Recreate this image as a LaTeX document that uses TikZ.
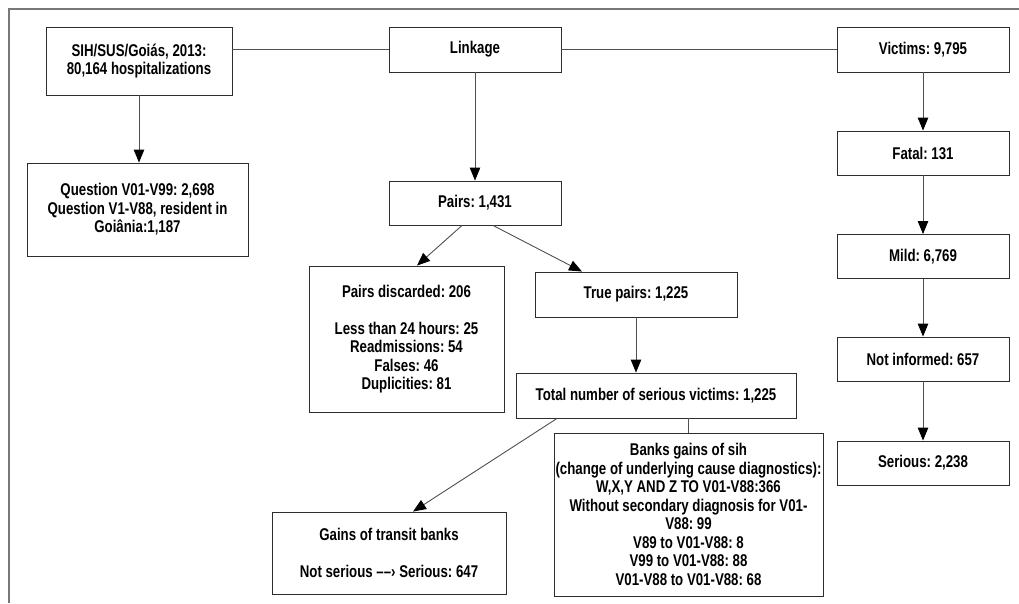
\documentclass[tikz,border=0pt]{standalone}
\usepackage{fontspec}
\setmainfont{Liberation Sans}[FakeStretch=0.78]
\usepackage{tikz}
\usetikzlibrary{arrows.meta,calc,positioning}
\definecolor{boxline}{RGB}{45,45,45}
\definecolor{arrline}{RGB}{80,80,80}
\definecolor{frameline}{RGB}{120,120,120}

\begin{document}
\frenchspacing
\begin{tikzpicture}[x=1pt,y=-1pt,
        font=\fontsize{17}{18.5}\selectfont\bfseries,
        >={Triangle[length=13pt,width=10.5pt,color=black]},
        bx/.style={draw=boxline,line width=.9pt,align=center,inner sep=0pt},
        lk/.style={draw=arrline,line width=.9pt}]
        \useasboundingbox (0,0) rectangle (1019,603);
        \draw[frameline,line width=1.2pt] (9,603)--(9,9)--(1019,9);
        \node[bx,minimum width=186pt,minimum height=68pt] (sih) at (139,61) {SIH/SUS/Goiás, 2013:\\80,164 hospitalizations};
        \node[bx,minimum width=172pt,minimum height=45pt] (link) at (475,49.5) {Linkage};
        \node[bx,minimum width=172pt,minimum height=45pt] (vict) at (923,49.5) {Victims: 9,795};
        \node[bx,minimum width=221pt,minimum height=93pt] (ques) at (137.5,209.5) {Question V01-V99: 2,698\\Question V1-V88, resident in\\Goiânia:1,187};
        \node[bx,minimum width=172pt,minimum height=44pt] (pairs) at (475,203) {Pairs: 1,431};
        \node[bx,minimum width=172pt,minimum height=44pt] (fatal) at (923,153) {Fatal: 131};
        \node[bx,minimum width=172pt,minimum height=44pt] (mild) at (923,256.5) {Mild: 6,769};
        \node[bx,minimum width=172pt,minimum height=44pt] (noinf) at (923,359) {Not informed: 657};
        \node[bx,minimum width=172pt,minimum height=44pt] (serious) at (923,463) {Serious: 2,238};
        \node[bx,minimum width=195pt,minimum height=146pt] (disc) at (406.5,339) {Pairs discarded: 206\\[18.5pt]Less than 24 hours: 25\\Readmissions: 54\\Falses: 46\\Duplicities: 81};
        \node[bx,minimum width=202pt,minimum height=45pt] (truep) at (636,294.5) {True pairs: 1,225};
        \node[bx,minimum width=280pt,minimum height=45pt] (total) at (656,395.5) {Total number of serious victims: 1,225};
        \node[bx,minimum width=269pt,minimum height=163pt] (banks) at (688.5,514.5) {Banks gains of sih\\(change of underlying cause diagnostics):\\W,X,Y AND Z TO V01-V88:366\\Without secondary diagnosis for V01-\\V88: 99\\V89 to V01-V88: 8\\V99 to V01-V88: 88\\V01-V88 to V01-V88: 68};
        \node[bx,minimum width=234pt,minimum height=82pt] (gains) at (389,553) {Gains of transit banks\\[18.5pt]Not serious ––› Serious: 647};
        \draw[lk] (sih.east|-link.west)--(link.west);
        \draw[lk] (link)--(vict);
        \draw[lk,->] (sih.south)--(sih.south|-ques.north);
        \draw[lk,->] (link)--(pairs);
        \draw[lk,->] (vict)--(fatal);
        \draw[lk,->] (fatal)--(mild);
        \draw[lk,->] (mild)--(noinf);
        \draw[lk,->] (noinf)--(serious);
        \draw[lk,->] ([xshift=-13pt]pairs.south)--([xshift=10.5pt]disc.north);
        \draw[lk,->] ([xshift=18pt]pairs.south)--([xshift=-54pt]truep.north);
        \draw[lk,->] (truep.south)--(truep.south|-total.north);
        \draw[lk] (total.south-|banks.north)--(banks.north);
        \draw[lk,->] ([xshift=-99pt]total.south)--([xshift=24pt]gains.north);
      \end{tikzpicture}
\end{document}
